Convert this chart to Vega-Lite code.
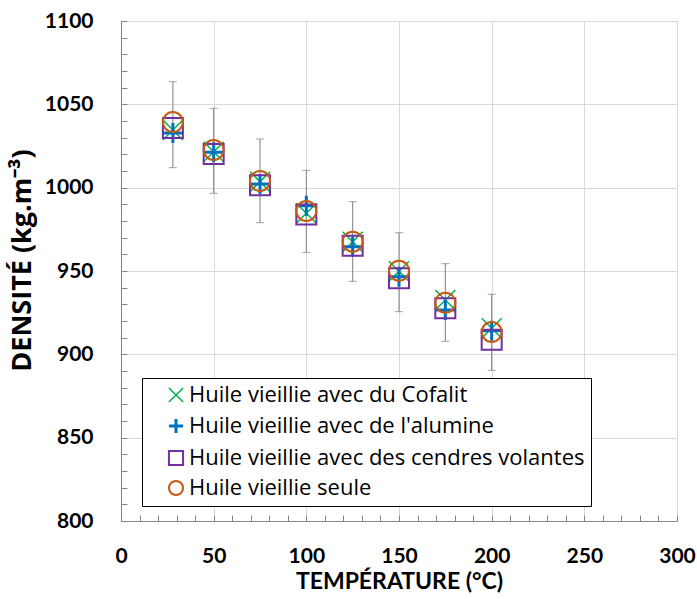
{
  "$schema": "https://vega.github.io/schema/vega-lite/v6.json",
  "width": 556,
  "height": 500,
  "autosize": "none",
  "padding": {"left": 121, "top": 21, "right": 20, "bottom": 78},
  "background": "white",
  "config": {"view": {"stroke": "#868686", "strokeWidth": 1}, "font": "Lato"},
  "datasets": {
    "err": [
      {"T": 28, "lo": 1012, "hi": 1063.6},
      {"T": 50, "lo": 996.6, "hi": 1047.6},
      {"T": 75, "lo": 979, "hi": 1029.2},
      {"T": 100, "lo": 961.2, "hi": 1010.4},
      {"T": 125, "lo": 943.8, "hi": 991.6},
      {"T": 150, "lo": 925.6, "hi": 973},
      {"T": 175, "lo": 907.8, "hi": 954.4},
      {"T": 200, "lo": 890.4, "hi": 936}
    ],
    "pts": [
      {"T": 28, "serie": "Huile vieillie avec du Cofalit", "v": 1034.6},
      {"T": 50, "serie": "Huile vieillie avec du Cofalit", "v": 1021.6},
      {"T": 75, "serie": "Huile vieillie avec du Cofalit", "v": 1003.6},
      {"T": 100, "serie": "Huile vieillie avec du Cofalit", "v": 984.6},
      {"T": 125, "serie": "Huile vieillie avec du Cofalit", "v": 967.6},
      {"T": 150, "serie": "Huile vieillie avec du Cofalit", "v": 949.8},
      {"T": 175, "serie": "Huile vieillie avec du Cofalit", "v": 932.6},
      {"T": 200, "serie": "Huile vieillie avec du Cofalit", "v": 915.6},
      {"T": 28, "serie": "Huile vieillie avec de l'alumine", "v": 1032.8},
      {"T": 50, "serie": "Huile vieillie avec de l'alumine", "v": 1021.2},
      {"T": 75, "serie": "Huile vieillie avec de l'alumine", "v": 1002.2},
      {"T": 100, "serie": "Huile vieillie avec de l'alumine", "v": 989.2},
      {"T": 125, "serie": "Huile vieillie avec de l'alumine", "v": 964.6},
      {"T": 150, "serie": "Huile vieillie avec de l'alumine", "v": 946.6},
      {"T": 175, "serie": "Huile vieillie avec de l'alumine", "v": 926.6},
      {"T": 200, "serie": "Huile vieillie avec de l'alumine", "v": 914.2},
      {"T": 28, "serie": "Huile vieillie avec des cendres volantes", "v": 1035.8},
      {"T": 50, "serie": "Huile vieillie avec des cendres volantes", "v": 1020.2},
      {"T": 75, "serie": "Huile vieillie avec des cendres volantes", "v": 1001.5},
      {"T": 100, "serie": "Huile vieillie avec des cendres volantes", "v": 983.9},
      {"T": 125, "serie": "Huile vieillie avec des cendres volantes", "v": 965.1},
      {"T": 150, "serie": "Huile vieillie avec des cendres volantes", "v": 945.7},
      {"T": 175, "serie": "Huile vieillie avec des cendres volantes", "v": 927.6},
      {"T": 200, "serie": "Huile vieillie avec des cendres volantes", "v": 908.7},
      {"T": 28, "serie": "Huile vieillie seule", "v": 1039.4},
      {"T": 50, "serie": "Huile vieillie seule", "v": 1022.6},
      {"T": 75, "serie": "Huile vieillie seule", "v": 1004},
      {"T": 100, "serie": "Huile vieillie seule", "v": 986},
      {"T": 125, "serie": "Huile vieillie seule", "v": 967.6},
      {"T": 150, "serie": "Huile vieillie seule", "v": 950.2},
      {"T": 175, "serie": "Huile vieillie seule", "v": 931},
      {"T": 200, "serie": "Huile vieillie seule", "v": 913.4}
    ]
  },
  "layer": [
    {
      "data": {"name": "err"},
      "mark": {"type": "rule", "color": "#7f7f7f", "strokeWidth": 1},
      "encoding": {
        "x": {
          "field": "T", "type": "quantitative",
          "scale": {"domain": [0, 300], "nice": false, "zero": false},
          "axis": {
            "title": "TEMPÉRATURE (°C)",
            "values": [0,10,20,30,40,50,60,70,80,90,100,110,120,130,140,150,160,170,180,190,200,210,220,230,240,250,260,270,280,290,300],
            "tickCount": 100,
            "format": "d",
            "labelExpr": "datum.value % 50 === 0 ? datum.label : ''",
            "labelOverlap": false,
            "labelFont": "Lato", "labelFontSize": 21, "labelFontWeight": "bold", "labelColor": "black",
            "labelPadding": 30, "labelFlush": false,
            "tickSize": -6, "tickColor": "#868686", "tickWidth": 1,
            "domainColor": "#868686", "domainWidth": 1,
            "grid": true, "gridColor": "#d9d9d9", "gridWidth": 1,
            "gridOpacity": {"condition": {"test": "datum.value % 50 !== 0", "value": 0}, "value": 1},
            "titleFont": "Lato", "titleFontSize": 23, "titleFontWeight": "bold", "titleColor": "black",
            "titlePadding": 4
          }
        },
        "y": {
          "field": "lo", "type": "quantitative",
          "scale": {"domain": [800, 1100], "nice": false, "zero": false},
          "axis": {
            "title": "DENSITÉ (kg.m⁻³)",
            "values": [800,810,820,830,840,850,860,870,880,890,900,910,920,930,940,950,960,970,980,990,1000,1010,1020,1030,1040,1050,1060,1070,1080,1090,1100],
            "tickCount": 100,
            "format": "d",
            "labelExpr": "datum.value % 50 === 0 ? datum.label : ''",
            "labelOverlap": false,
            "labelFont": "Lato", "labelFontSize": 21, "labelFontWeight": "bold", "labelColor": "black",
            "labelPadding": 34, "labelFlush": false,
            "tickSize": -6, "tickColor": "#868686", "tickWidth": 1,
            "domainColor": "#868686", "domainWidth": 1,
            "grid": true, "gridColor": "#d9d9d9", "gridWidth": 1,
            "gridOpacity": {"condition": {"test": "datum.value % 50 !== 0", "value": 0}, "value": 1},
            "titleFont": "Open Sans", "titleFontSize": 27, "titleFontWeight": "bold", "titleColor": "black",
            "titlePadding": 8, "titleY": 239
          }
        },
        "y2": {"field": "hi"}
      }
    },
    {
      "data": {"name": "err"},
      "mark": {"type": "point", "shape": "M-1,0L1,0", "filled": false, "stroke": "#7f7f7f", "strokeWidth": 1, "size": 64},
      "encoding": {
        "x": {"field": "T", "type": "quantitative"},
        "y": {"field": "lo", "type": "quantitative", "title": "DENSITÉ (kg.m⁻³)"}
      }
    },
    {
      "data": {"name": "err"},
      "mark": {"type": "point", "shape": "M-1,0L1,0", "filled": false, "stroke": "#7f7f7f", "strokeWidth": 1, "size": 64},
      "encoding": {
        "x": {"field": "T", "type": "quantitative"},
        "y": {"field": "hi", "type": "quantitative", "title": "DENSITÉ (kg.m⁻³)"}
      }
    },
    {
      "data": {"name": "pts"},
      "mark": {"type": "point", "filled": false, "size": 400, "opacity": 1},
      "encoding": {
        "x": {"field": "T", "type": "quantitative"},
        "y": {"field": "v", "type": "quantitative", "title": "DENSITÉ (kg.m⁻³)"},
        "shape": {
          "field": "serie", "type": "nominal",
          "scale": {
            "domain": ["Huile vieillie avec du Cofalit", "Huile vieillie avec de l'alumine", "Huile vieillie avec des cendres volantes", "Huile vieillie seule"],
            "range": ["M-1,-1L1,1M-1,1L1,-1", "M-1,0L1,0M0,-1L0,1", "square", "circle"]
          },
          "legend": {
            "title": null, "orient": "none", "legendX": 21, "legendY": 357, "direction": "vertical",
            "fillColor": "white", "strokeColor": "black", "padding": 6, "cornerRadius": 0,
            "labelFont": "Open Sans", "labelFontSize": 22, "labelColor": "black", "labelLimit": 0,
            "symbolSize": 200, "symbolStrokeWidth": 2, "rowPadding": 6, "symbolOffset": 17, "labelOffset": 2
          }
        },
        "stroke": {
          "field": "serie", "type": "nominal",
          "scale": {
            "domain": ["Huile vieillie avec du Cofalit", "Huile vieillie avec de l'alumine", "Huile vieillie avec des cendres volantes", "Huile vieillie seule"],
            "range": ["#00B050", "#0070C0", "#7030A0", "#C55A11"]
          },
          "legend": {
            "title": null, "orient": "none", "legendX": 21, "legendY": 357, "direction": "vertical",
            "fillColor": "white", "strokeColor": "black", "padding": 6, "cornerRadius": 0,
            "labelFont": "Open Sans", "labelFontSize": 22, "labelColor": "black", "labelLimit": 0,
            "symbolSize": 200, "symbolStrokeWidth": 2, "rowPadding": 6, "symbolOffset": 17, "labelOffset": 2
          }
        },
        "strokeWidth": {
          "field": "serie", "type": "nominal",
          "scale": {
            "type": "ordinal",
            "domain": ["Huile vieillie avec du Cofalit", "Huile vieillie avec de l'alumine", "Huile vieillie avec des cendres volantes", "Huile vieillie seule"],
            "range": [1.5, 3, 2, 2]
          },
          "legend": null
        }
      }
    }
  ]
}
